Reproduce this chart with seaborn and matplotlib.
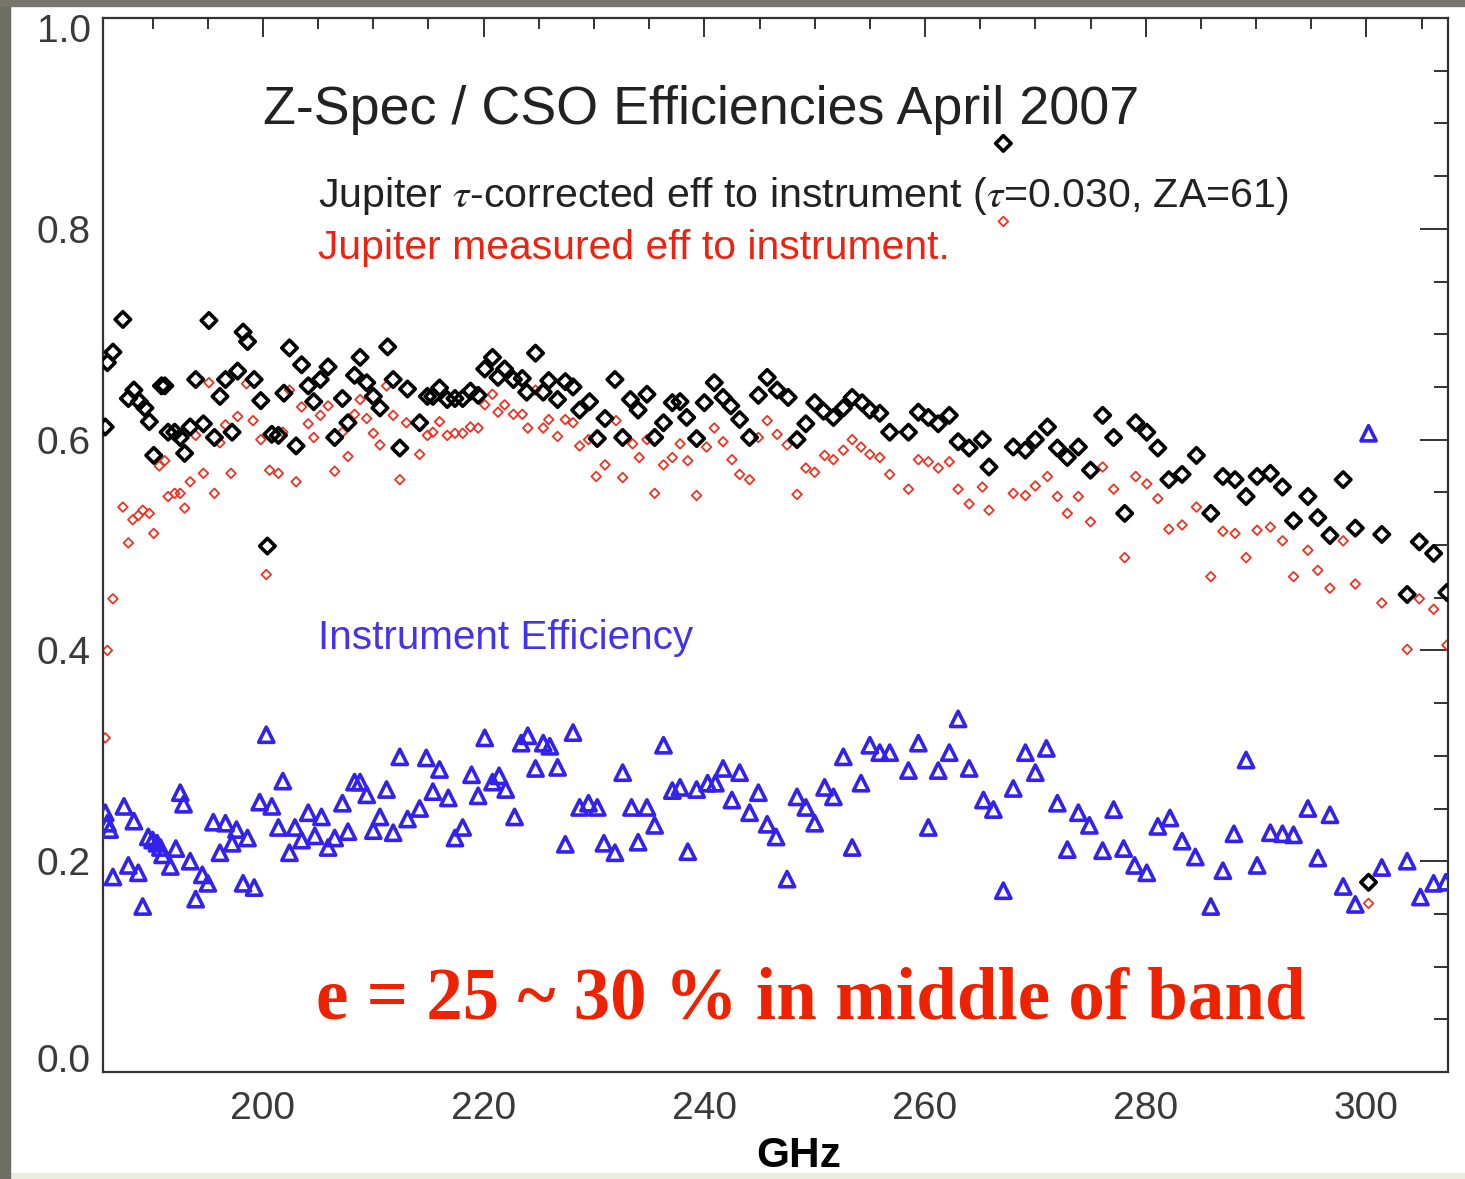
import matplotlib
matplotlib.use("Agg")
import matplotlib.pyplot as plt
import matplotlib.patches as mpatches
from matplotlib.transforms import ScaledTranslation
import seaborn as sns
import pandas as pd

# Z-Spec channels, values
freq_corr = [185.7, 185.9, 186.4, 187.3, 187.8, 188.3, 188.8, 189.3, 189.7, 190.1,
             190.8, 191.1, 191.4, 192.0, 192.5, 192.9, 193.4, 193.9, 194.6, 195.1,
             195.6, 196.1, 196.6, 197.2, 197.7, 198.2, 198.6, 199.2, 199.8, 200.4,
             200.8, 201.4, 201.9, 202.4, 203.0, 203.5, 204.1, 204.6, 205.2, 205.9,
             206.5, 207.2, 207.7, 208.3, 208.8, 209.4, 210.0, 210.6, 211.3, 211.8,
             212.4, 213.1, 214.2, 214.9, 215.4, 216.0, 216.7, 217.4, 218.1, 218.8,
             219.5, 220.1, 220.8, 221.3, 221.9, 222.7, 223.5, 223.9, 224.7, 225.4,
             225.9, 226.7, 227.4, 228.1, 228.7, 229.6, 230.3, 231.0, 231.9, 232.6,
             233.3, 234.0, 234.8, 235.5, 236.3, 237.1, 237.8, 238.4, 239.3, 240.0,
             240.9, 241.7, 242.4, 243.2, 244.1, 244.9, 245.7, 246.6, 247.6, 248.4,
             249.2, 250.0, 250.8, 251.7, 252.6, 253.4, 254.3, 255.0, 255.9, 256.8,
             258.5, 259.4, 260.3, 261.2, 262.2, 263.0, 264.0, 265.2, 265.8, 267.1,
             268.0, 269.1, 270.0, 271.1, 272.0, 272.9, 273.9, 275.0, 276.1, 277.1,
             278.1, 279.1, 280.1, 281.1, 282.1, 283.3, 284.6, 285.9, 287.0, 288.1,
             289.1, 290.1, 291.3, 292.4, 293.4, 294.7, 295.6, 296.7, 297.9, 299.0,
             300.2, 301.4, 303.7, 304.8, 306.1, 307.3]
eff_corr = [0.612, 0.673, 0.683, 0.714, 0.639, 0.647, 0.636, 0.630, 0.617, 0.585,
            0.651, 0.651, 0.607, 0.607, 0.602, 0.587, 0.612, 0.657, 0.615, 0.713,
            0.602, 0.641, 0.657, 0.607, 0.665, 0.702, 0.693, 0.657, 0.637, 0.499,
            0.605, 0.604, 0.644, 0.687, 0.594, 0.671, 0.651, 0.636, 0.657, 0.669,
            0.602, 0.639, 0.616, 0.661, 0.678, 0.654, 0.641, 0.630, 0.688, 0.657,
            0.592, 0.648, 0.616, 0.641, 0.641, 0.649, 0.638, 0.639, 0.639, 0.646,
            0.642, 0.667, 0.678, 0.659, 0.667, 0.657, 0.658, 0.645, 0.682, 0.645,
            0.656, 0.638, 0.655, 0.650, 0.628, 0.636, 0.601, 0.620, 0.657, 0.602,
            0.638, 0.628, 0.643, 0.602, 0.616, 0.635, 0.636, 0.621, 0.601, 0.635,
            0.654, 0.640, 0.632, 0.619, 0.602, 0.642, 0.659, 0.647, 0.640, 0.600,
            0.615, 0.635, 0.627, 0.621, 0.630, 0.640, 0.635, 0.628, 0.625, 0.607,
            0.607, 0.626, 0.621, 0.615, 0.623, 0.598, 0.592, 0.600, 0.574, 0.881,
            0.593, 0.590, 0.600, 0.612, 0.592, 0.583, 0.593, 0.571, 0.623, 0.602,
            0.530, 0.616, 0.607, 0.592, 0.562, 0.567, 0.585, 0.530, 0.565, 0.562,
            0.546, 0.565, 0.568, 0.555, 0.523, 0.546, 0.526, 0.509, 0.562, 0.516,
            0.180, 0.510, 0.453, 0.503, 0.492, 0.455]

freq_meas = [185.7, 185.9, 186.4, 187.3, 187.8, 188.2, 188.7, 189.1, 189.7, 190.1,
             190.6, 191.1, 191.4, 192.0, 192.5, 192.9, 193.4, 193.9, 194.6, 195.1,
             195.6, 196.1, 196.6, 197.1, 197.7, 198.5, 199.1, 199.8, 200.3, 200.6,
             201.4, 201.8, 202.4, 203.0, 203.5, 204.1, 204.6, 205.2, 205.9, 206.5,
             207.2, 207.7, 208.3, 208.8, 209.4, 210.0, 210.6, 211.2, 211.8, 212.4,
             213.0, 214.2, 214.9, 215.4, 216.0, 216.7, 217.4, 218.1, 218.8, 219.5,
             220.1, 220.8, 221.3, 221.9, 222.7, 223.5, 224.0, 224.7, 225.4, 225.9,
             226.7, 227.4, 228.1, 228.7, 229.5, 230.2, 231.0, 232.0, 232.6, 233.5,
             234.1, 234.8, 235.5, 236.3, 237.1, 237.8, 238.5, 239.3, 240.2, 240.9,
             241.7, 242.5, 243.2, 244.1, 244.9, 245.7, 246.6, 247.5, 248.4, 249.2,
             250.0, 250.9, 251.7, 252.6, 253.4, 254.2, 255.0, 255.9, 256.8, 258.5,
             259.4, 260.3, 261.2, 262.2, 263.0, 264.0, 265.2, 265.8, 267.1, 268.0,
             269.1, 270.0, 271.1, 272.0, 272.9, 273.9, 275.0, 276.1, 277.1, 278.1,
             279.1, 280.1, 281.1, 282.1, 283.3, 284.6, 285.9, 287.0, 288.1, 289.1,
             290.1, 291.3, 292.4, 293.4, 294.7, 295.6, 296.7, 297.9, 299.0, 300.2,
             301.4, 303.7, 304.8, 306.1, 307.3]
eff_meas = [0.317, 0.400, 0.449, 0.536, 0.502, 0.524, 0.528, 0.533, 0.530, 0.511,
            0.575, 0.580, 0.546, 0.549, 0.549, 0.535, 0.560, 0.604, 0.568, 0.654,
            0.549, 0.597, 0.614, 0.568, 0.622, 0.653, 0.618, 0.600, 0.472, 0.571,
            0.568, 0.607, 0.647, 0.560, 0.631, 0.615, 0.602, 0.623, 0.632, 0.570,
            0.607, 0.584, 0.624, 0.638, 0.620, 0.606, 0.595, 0.651, 0.623, 0.562,
            0.616, 0.586, 0.604, 0.607, 0.617, 0.604, 0.606, 0.606, 0.612, 0.611,
            0.633, 0.643, 0.626, 0.633, 0.624, 0.624, 0.611, 0.647, 0.611, 0.619,
            0.603, 0.619, 0.616, 0.594, 0.600, 0.565, 0.576, 0.618, 0.564, 0.596,
            0.583, 0.600, 0.549, 0.576, 0.583, 0.596, 0.580, 0.547, 0.593, 0.611,
            0.598, 0.581, 0.567, 0.562, 0.602, 0.618, 0.605, 0.595, 0.548, 0.573,
            0.569, 0.585, 0.581, 0.590, 0.600, 0.593, 0.586, 0.583, 0.567, 0.553,
            0.581, 0.579, 0.573, 0.579, 0.553, 0.539, 0.555, 0.533, 0.807, 0.549,
            0.547, 0.556, 0.565, 0.546, 0.530, 0.546, 0.522, 0.574, 0.553, 0.488,
            0.565, 0.558, 0.544, 0.515, 0.519, 0.536, 0.470, 0.513, 0.511, 0.488,
            0.514, 0.517, 0.504, 0.470, 0.495, 0.476, 0.459, 0.504, 0.463, 0.160,
            0.445, 0.401, 0.449, 0.439, 0.405]

freq_inst = [185.7, 185.9, 186.1, 186.4, 187.4, 187.8, 188.3, 188.7, 189.1, 189.6,
             190.0, 190.4, 190.7, 190.9, 191.6, 192.1, 192.5, 192.8, 193.4, 193.9,
             194.5, 195.0, 195.5, 196.1, 196.6, 197.2, 197.6, 198.2, 198.6, 199.2,
             199.7, 200.3, 200.8, 201.4, 201.8, 202.4, 202.9, 203.5, 204.1, 204.7,
             205.3, 205.9, 206.5, 207.2, 207.7, 208.3, 208.8, 209.4, 210.0, 210.6,
             211.2, 211.8, 212.4, 213.1, 214.2, 214.8, 215.4, 216.0, 216.8, 217.4,
             218.1, 218.9, 219.5, 220.1, 220.8, 221.4, 222.0, 222.8, 223.4, 224.0,
             224.7, 225.4, 226.0, 226.7, 227.4, 228.1, 228.7, 229.5, 230.3, 230.9,
             231.9, 232.6, 233.4, 234.0, 234.8, 235.5, 236.3, 237.1, 237.8, 238.5,
             239.3, 240.3, 241.0, 241.7, 242.5, 243.2, 244.1, 244.9, 245.7, 246.5,
             247.5, 248.4, 249.2, 250.0, 250.9, 251.7, 252.6, 253.4, 254.2, 255.0,
             255.9, 256.8, 258.5, 259.4, 260.3, 261.2, 262.2, 263.0, 264.0, 265.3,
             266.2, 267.1, 268.0, 269.1, 270.0, 271.0, 272.0, 272.9, 273.9, 274.9,
             276.1, 277.1, 278.0, 279.0, 280.1, 281.1, 282.2, 283.3, 284.5, 285.9,
             287.0, 288.0, 289.1, 290.1, 291.3, 292.4, 293.4, 294.7, 295.6, 296.7,
             297.9, 299.0, 300.2, 301.4, 303.7, 304.9, 306.1, 307.2]
eff_inst = [0.246, 0.236, 0.230, 0.185, 0.252, 0.196, 0.238, 0.189, 0.157, 0.223,
            0.220, 0.217, 0.213, 0.206, 0.195, 0.212, 0.265, 0.254, 0.200, 0.164,
            0.187, 0.179, 0.237, 0.208, 0.236, 0.217, 0.230, 0.179, 0.222, 0.175,
            0.256, 0.320, 0.252, 0.232, 0.276, 0.208, 0.232, 0.220, 0.246, 0.224,
            0.242, 0.213, 0.222, 0.255, 0.228, 0.275, 0.275, 0.263, 0.229, 0.242,
            0.268, 0.227, 0.299, 0.240, 0.250, 0.298, 0.266, 0.287, 0.260, 0.222,
            0.232, 0.282, 0.262, 0.317, 0.275, 0.281, 0.268, 0.242, 0.312, 0.319,
            0.288, 0.312, 0.309, 0.289, 0.216, 0.322, 0.251, 0.255, 0.251, 0.217,
            0.208, 0.284, 0.251, 0.218, 0.251, 0.234, 0.310, 0.267, 0.270, 0.209,
            0.268, 0.274, 0.274, 0.288, 0.258, 0.284, 0.246, 0.265, 0.235, 0.223,
            0.183, 0.261, 0.251, 0.236, 0.270, 0.261, 0.299, 0.213, 0.274, 0.310,
            0.303, 0.303, 0.286, 0.312, 0.232, 0.286, 0.303, 0.335, 0.288, 0.258,
            0.249, 0.172, 0.269, 0.303, 0.284, 0.307, 0.255, 0.211, 0.246, 0.234,
            0.210, 0.249, 0.212, 0.196, 0.189, 0.233, 0.241, 0.219, 0.204, 0.157,
            0.191, 0.226, 0.296, 0.196, 0.227, 0.226, 0.225, 0.250, 0.203, 0.244,
            0.176, 0.159, 0.606, 0.194, 0.200, 0.166, 0.179, 0.180]

corr_df = pd.DataFrame({'GHz': freq_corr, 'eff': eff_corr})
meas_df = pd.DataFrame({'GHz': freq_meas, 'eff': eff_meas})
inst_df = pd.DataFrame({'GHz': freq_inst, 'eff': eff_inst})

sns.set_theme(style="white")
plt.rcParams['font.family'] = ['Liberation Sans', 'DejaVu Sans']
plt.rcParams['mathtext.fontset'] = 'stix'

fig = plt.figure(figsize=(14.65, 11.79), dpi=100)
fig.patch.set_facecolor('white')
# slide border: dark strip left/top, pale strip at the bottom
fig.add_artist(mpatches.Rectangle((0, 0), 1, 6 / 1179, transform=fig.transFigure,
                                  color='#ecece6', zorder=-5))
fig.add_artist(mpatches.Rectangle((0, 0), 10 / 1465, 1, transform=fig.transFigure,
                                  color='#6e6e64', zorder=-5))
fig.add_artist(mpatches.Rectangle((0, 1 - 6 / 1179), 1, 6 / 1179, transform=fig.transFigure,
                                  color='#76766c', zorder=-5))

ax = fig.add_axes([103 / 1465, 107 / 1179, 1345 / 1465, 1054 / 1179])

sns.scatterplot(data=corr_df, x='GHz', y='eff', marker='D', s=62, color='black',
                edgecolor='black', linewidth=2.6, ax=ax, zorder=3)
ax.collections[-1].set_facecolor('none')
sns.scatterplot(data=meas_df, x='GHz', y='eff', marker='D', s=24, color='#ee3322',
                edgecolor='#ee3322', linewidth=1.3, ax=ax, zorder=2)
ax.collections[-1].set_facecolor('none')
sns.scatterplot(data=inst_df, x='GHz', y='eff', marker='^', s=120, color='#3322ee',
                edgecolor='#3322ee', linewidth=2.6, ax=ax, zorder=3)
ax.collections[-1].set_facecolor('none')

ax.set_xlim(185.5, 307.4)
ax.set_ylim(0, 1.0)
ax.set_xticks([200, 220, 240, 260, 280, 300])
ax.set_xticks(range(190, 310, 5), minor=True)
ax.set_yticks([0.0, 0.2, 0.4, 0.6, 0.8, 1.0])
ax.set_yticklabels(['0.0', '0.2', '0.4', '0.6', '0.8', '1.0'])
ax.set_yticks([i * 0.05 for i in range(21)], minor=True)

for sp in ax.spines.values():
    sp.set_color('#333333')
    sp.set_linewidth(1.6)

ax.tick_params(which='both', direction='in', top=True, right=True, colors='#333333',
               width=1.4, labelsize=28, labelcolor='#3a3a3a')
ax.tick_params(axis='x', which='major', length=14, pad=14)
ax.tick_params(axis='x', which='minor', length=8)
ax.tick_params(axis='y', which='major', length=20, pad=9)
ax.tick_params(axis='y', which='minor', length=10)

# end labels sit inside the frame, like the original
ylabels = ax.get_yticklabels()
ylabels[0].set_va('baseline')
ylabels[-1].set_transform(ylabels[-1].get_transform()
                          + ScaledTranslation(0, -7 / 72, fig.dpi_scale_trans))

ax.set_xlabel('GHz', fontsize=30.5, fontweight='bold', color='black')
ax.xaxis.set_label_coords(0.5175, -0.061)
ax.set_ylabel('')

ax.text(0.119, 0.913, 'Z-Spec / CSO Efficiencies April 2007', transform=ax.transAxes,
        fontsize=38.8, color='#222222', va='center', ha='left')
ax.text(0.160, 0.831, r'Jupiter $\tau$-corrected eff to instrument ($\tau$=0.030, ZA=61)',
        transform=ax.transAxes, fontsize=29.6, color='#222222', va='center', ha='left')
ax.text(0.160, 0.782, 'Jupiter measured eff to instrument.', transform=ax.transAxes,
        fontsize=29.4, color='#ee2211', va='center', ha='left')
ax.text(0.160, 0.412, 'Instrument Efficiency', transform=ax.transAxes,
        fontsize=29.2, color='#4433ee', va='center', ha='left')
ax.text(0.158, 0.068, 'e = 25 ~ 30 % in middle of band', transform=ax.transAxes,
        fontsize=52.5, color='#ee2200', fontweight='bold', family=['Liberation Serif', 'DejaVu Serif'],
        va='center', ha='left')

plt.savefig('out.png', dpi=100)
